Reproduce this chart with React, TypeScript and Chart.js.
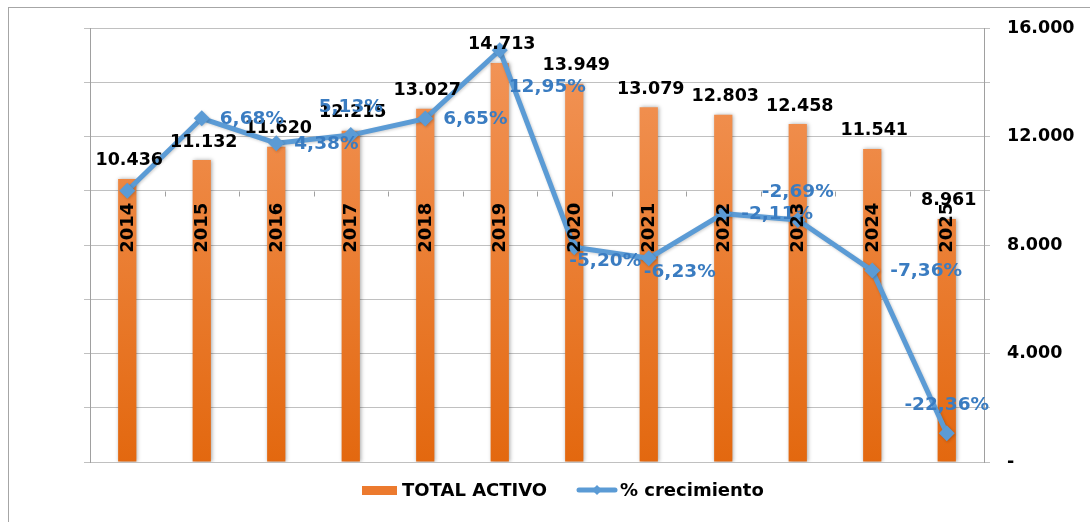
import React, { useEffect, useRef } from "react";
import { Chart, registerables } from "chart.js";

Chart.register(...registerables);

// ---- data ----
const years = ["2014", "2015", "2016", "2017", "2018", "2019", "2020", "2021", "2022", "2023", "2024", "2025"];
const totalActivo = [10436, 11132, 11620, 12215, 13027, 14713, 13949, 13079, 12803, 12458, 11541, 8961];
const crecimiento = [0, 6.68, 4.38, 5.13, 6.65, 12.95, -5.2, -6.23, -2.11, -2.69, -7.36, -22.36];
const labeledTickValues = [0, 4000, 8000, 12000, 16000];
const datasetsLabels = ["TOTAL ACTIVO", "% crecimiento"];
// placement of growth labels relative to their points (style only)
const pctPlacement = ["none", "right", "right", "above", "right", "belowRight", "below", "below", "right", "above", "right", "above"];

const FONT = "'DejaVu Sans', Verdana, sans-serif";
const BAR_TOP = "#F3975C";
const BAR_BOTTOM = "#E3680F";
const LINE_COLOR = "#5B9BD5";
const PCT_COLOR = "#3A7CC1";
const GRID = "#C0C0C0";
const AXIS = "#A0A0A0";

const fmtThousands = (v: number) => (v === 0 ? "-" : v.toString().replace(/\B(?=(\d{3})+(?!\d))/g, "."));
const fmtPct = (v: number) => v.toFixed(2).replace(".", ",") + "%";

const decorPlugin = {
  id: "decor",
  beforeDraw(chart: any) {
    const ctx = chart.ctx;
    ctx.save();
    ctx.strokeStyle = "#A6A6A6";
    ctx.lineWidth = 1;
    ctx.strokeRect(8.5, 7.5, 1200, 600);
    ctx.restore();
  },
  beforeDatasetsDraw(chart: any) {
    const ctx = chart.ctx;
    const area = chart.chartArea;
    const y0 = Math.round(chart.scales.y1.getPixelForValue(0)) + 0.5;
    const n = years.length;
    const w = (area.right - area.left) / n;
    ctx.save();
    ctx.strokeStyle = AXIS;
    ctx.lineWidth = 1;
    for (let i = 1; i < n; i++) {
      const x = Math.round(area.left + i * w) + 0.5;
      ctx.beginPath();
      ctx.moveTo(x, y0);
      ctx.lineTo(x, y0 + 5);
      ctx.stroke();
    }
    ctx.restore();
  },
  beforeDatasetDraw(chart: any, args: any) {
    const ctx = chart.ctx;
    ctx.save();
    if (args.index === 0) {
      ctx.shadowColor = "rgba(0,0,0,0.35)";
      ctx.shadowBlur = 4;
      ctx.shadowOffsetX = 1;
      ctx.shadowOffsetY = 0;
    } else {
      ctx.shadowColor = "rgba(0,0,0,0.2)";
      ctx.shadowBlur = 3;
      ctx.shadowOffsetX = 1;
      ctx.shadowOffsetY = 1;
    }
  },
  afterDatasetDraw(chart: any) {
    chart.ctx.restore();
  },
  afterDatasetsDraw(chart: any) {
    const ctx = chart.ctx;
    const barMeta = chart.getDatasetMeta(0);
    const lineMeta = chart.getDatasetMeta(1);
    ctx.save();
    ctx.textBaseline = "middle";
    // bar value labels
    ctx.font = `bold 17.5px ${FONT}`;
    ctx.fillStyle = "#000";
    ctx.textAlign = "center";
    barMeta.data.forEach((bar: any, i: number) => {
      ctx.fillText(fmtThousands(totalActivo[i]), bar.x + 2, bar.y - 18);
    });
    // growth labels
    ctx.font = `bold 18.5px ${FONT}`;
    ctx.fillStyle = PCT_COLOR;
    lineMeta.data.forEach((pt: any, i: number) => {
      const p = pctPlacement[i];
      if (p === "none") return;
      const t = fmtPct(crecimiento[i]);
      if (p === "right") {
        ctx.textAlign = "left";
        ctx.fillText(t, pt.x + 18, pt.y + 1);
      } else if (p === "above") {
        ctx.textAlign = "center";
        ctx.fillText(t, pt.x, pt.y - 28);
      } else if (p === "below") {
        ctx.textAlign = "center";
        ctx.fillText(t, pt.x + 31, pt.y + 14);
      } else if (p === "belowRight") {
        ctx.textAlign = "left";
        ctx.fillText(t, pt.x + 9, pt.y + 37);
      }
    });
    // year (category) labels, rotated inside the bars below the 0% axis
    const y0 = chart.scales.y1.getPixelForValue(0);
    ctx.fillStyle = "#000";
    ctx.font = `bold 18px ${FONT}`;
    barMeta.data.forEach((bar: any, i: number) => {
      ctx.save();
      ctx.translate(bar.x, y0 + 12);
      ctx.rotate(-Math.PI / 2);
      ctx.textAlign = "right";
      ctx.textBaseline = "middle";
      ctx.fillText(years[i], 0, 1);
      ctx.restore();
    });
    ctx.restore();
  },
  afterDraw(chart: any) {
    const ctx = chart.ctx;
    ctx.save();
    const cy = 490;
    // bar legend item
    ctx.fillStyle = "#EC7A2E";
    ctx.fillRect(362, 486, 35, 9);
    ctx.font = `bold 18px ${FONT}`;
    ctx.fillStyle = "#000";
    ctx.textBaseline = "middle";
    ctx.textAlign = "left";
    ctx.fillText(datasetsLabels[0], 402, cy + 1);
    // line legend item
    ctx.strokeStyle = LINE_COLOR;
    ctx.lineWidth = 5;
    ctx.lineCap = "round";
    ctx.beginPath();
    ctx.moveTo(579, cy);
    ctx.lineTo(615, cy);
    ctx.stroke();
    ctx.fillStyle = LINE_COLOR;
    ctx.beginPath();
    ctx.moveTo(597, cy - 5);
    ctx.lineTo(602, cy);
    ctx.lineTo(597, cy + 5);
    ctx.lineTo(592, cy);
    ctx.closePath();
    ctx.fill();
    ctx.fillStyle = "#000";
    ctx.fillText(datasetsLabels[1], 620, cy + 1);
    ctx.restore();
  },
};

export default function App() {
  const ref = useRef<HTMLCanvasElement | null>(null);
  useEffect(() => {
    if (!ref.current) return;
    const chart = new Chart(ref.current, {
      type: "bar",
      data: {
        labels: years,
        datasets: [
          {
            type: "bar",
            label: datasetsLabels[0],
            data: totalActivo,
            yAxisID: "y",
            order: 1,
            backgroundColor: (c: any) => {
              const area = c.chart.chartArea;
              if (!area) return BAR_BOTTOM;
              const g = c.chart.ctx.createLinearGradient(0, area.top, 0, area.bottom);
              g.addColorStop(0, BAR_TOP);
              g.addColorStop(1, BAR_BOTTOM);
              return g;
            },
            borderWidth: 0,
            categoryPercentage: 1,
            barPercentage: 0.245,
          } as any,
          {
            type: "line",
            label: datasetsLabels[1],
            data: crecimiento,
            yAxisID: "y1",
            order: 0,
            borderColor: LINE_COLOR,
            backgroundColor: LINE_COLOR,
            borderWidth: 5,
            pointStyle: "rectRot",
            pointRadius: 8,
            pointBorderWidth: 0,
            tension: 0,
          } as any,
        ],
      },
      options: {
        responsive: false,
        animation: false,
        devicePixelRatio: 1,
        layout: { padding: { top: 28, bottom: 60, left: 0, right: 0 } },
        plugins: { legend: { display: false }, tooltip: { enabled: false } },
        scales: {
          x: { type: "category", display: false, offset: true },
          y: {
            position: "right",
            min: 0,
            max: 16000,
            ticks: {
              stepSize: 2000,
              padding: 17,
              color: "#000",
              font: { family: FONT, size: 17.5, weight: "bold" },
              callback: (v: any) => (labeledTickValues.includes(Number(v)) ? fmtThousands(Number(v)) : ""),
            },
            grid: { color: GRID, tickLength: 6, lineWidth: 1 },
            border: { color: AXIS },
            afterFit: (s: any) => {
              s.width = 106;
            },
          },
          y1: {
            position: "left",
            min: -25,
            max: 15,
            ticks: { stepSize: 5, display: false },
            grid: { drawOnChartArea: false, tickLength: 6, color: GRID },
            border: { color: AXIS },
            afterFit: (s: any) => {
              s.width = 90;
            },
          },
        },
      } as any,
      plugins: [decorPlugin],
    });
    return () => chart.destroy();
  }, []);
  return (
    <div style={{ position: "absolute", left: 0, top: 0, width: 1090, height: 522, background: "#fff" }}>
      <canvas ref={ref} width={1090} height={522} style={{ display: "block" }} />
    </div>
  );
}
